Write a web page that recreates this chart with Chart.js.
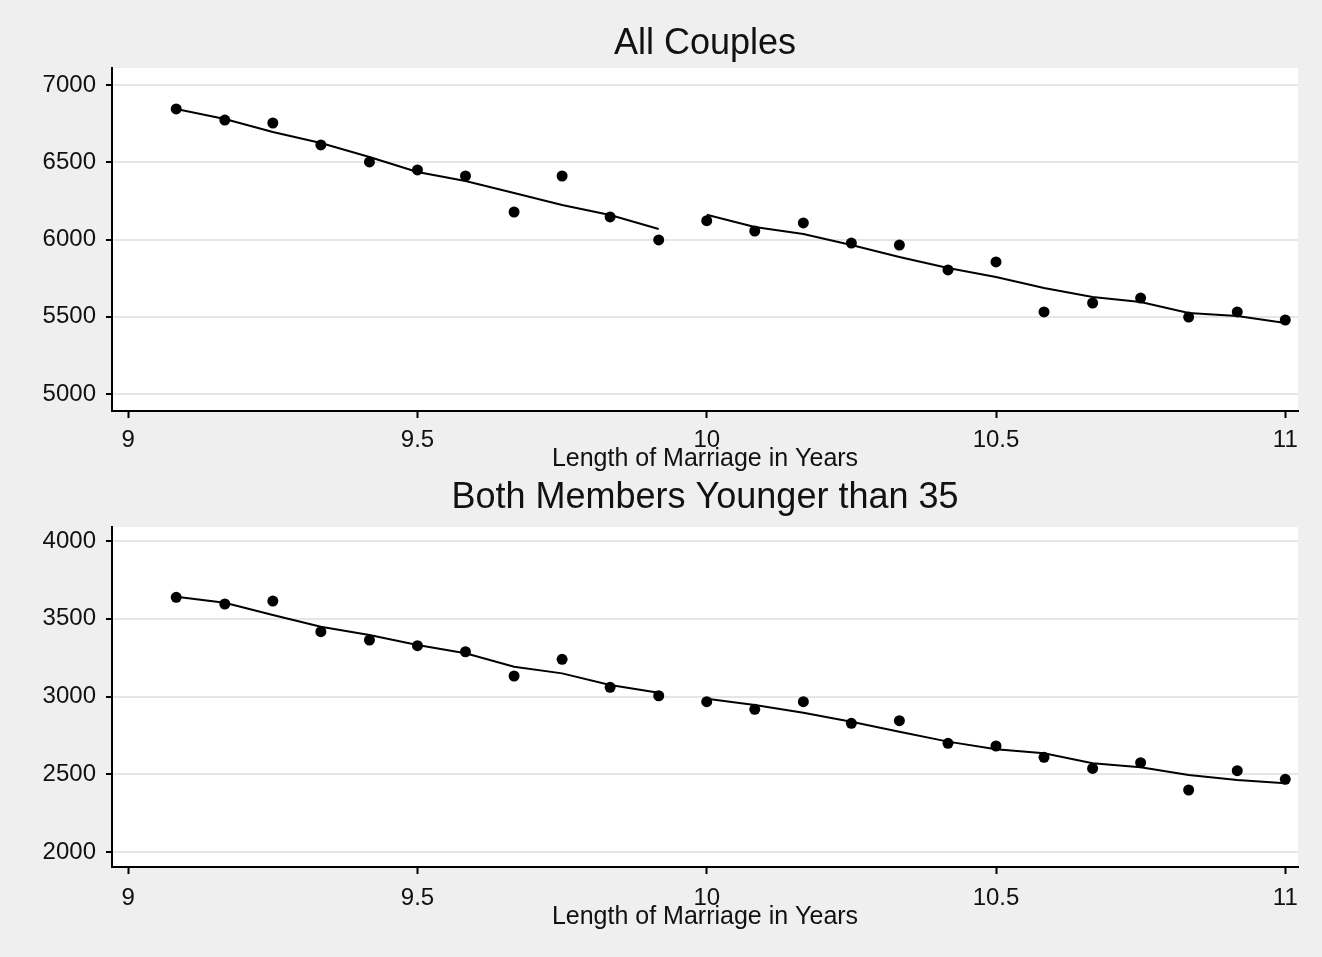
<!DOCTYPE html>
<html>
<head>
<meta charset="utf-8">
<script src="https://cdn.jsdelivr.net/npm/chart.js@4.4.1/dist/chart.umd.min.js"></script>
<style>
  html, body { margin: 0; padding: 0; background: #efefef; }
  .wrap { position: relative; width: 1322px; height: 957px; }
  .panel { position: absolute; left: 0; width: 1322px; }
</style>
</head>
<body>
<div class="wrap">
  <div class="panel" style="top:0;height:478px"><canvas id="allCouples"></canvas></div>
  <div class="panel" style="top:478px;height:479px"><canvas id="youngCouples"></canvas></div>
</div>
<script>
// length of marriage in years (monthly bins)
const years = [9.083, 9.167, 9.25, 9.333, 9.417, 9.5, 9.583, 9.667, 9.75, 9.833, 9.917,
               10, 10.083, 10.167, 10.25, 10.333, 10.417, 10.5, 10.583, 10.667, 10.75, 10.833, 10.917, 11];
const splitAt = 11; // fitted line breaks at 10 years

// All Couples
const allMeans = [6845, 6773, 6754, 6612, 6502, 6450, 6411, 6178, 6411, 6146, 5997,
                  6122, 6055, 6107, 5977, 5964, 5803, 5855, 5531, 5589, 5621, 5498, 5531, 5479];
const allFit   = [6845, 6780, 6696, 6625, 6534, 6437, 6379, 6301, 6223, 6159, 6068,
                  6160, 6081, 6036, 5964, 5887, 5816, 5757, 5686, 5628, 5596, 5524, 5505, 5460];

// Both Members Younger than 35
const youngMeans = [3638, 3595, 3614, 3417, 3363, 3327, 3288, 3132, 3239, 3059, 3005,
                    2967, 2918, 2967, 2828, 2845, 2699, 2682, 2609, 2538, 2575, 2399, 2523, 2468];
const youngFit   = [3642, 3603, 3524, 3449, 3396, 3331, 3278, 3192, 3149, 3074, 3025,
                    2985, 2946, 2896, 2838, 2774, 2710, 2661, 2635, 2571, 2545, 2495, 2463, 2442];

const xTicks = [9, 9.5, 10, 10.5, 11];
const allTicks = [5000, 5500, 6000, 6500, 7000];
const youngTicks = [2000, 2500, 3000, 3500, 4000];

const FONT = "'Liberation Sans', Arial, sans-serif";
const TXT = '#111';

// white plot region on the grey page
const plotBg = {
  id: 'plotBg',
  beforeDraw(chart) {
    const a = chart.chartArea, ctx = chart.ctx;
    ctx.save();
    ctx.fillStyle = '#ffffff';
    ctx.fillRect(a.left, a.top, a.right - a.left, a.bottom - a.top);
    ctx.restore();
  }
};

function pts(xs, ys) { return xs.map((x, i) => ({ x: x, y: ys[i] })); }

function drawPanel(id, title, means, fit, yTicks, yMin, yMax, L) {
  new Chart(document.getElementById(id), {
    type: 'scatter',
    data: {
      datasets: [
        { data: pts(years, means), xAxisID: 'x', yAxisID: 'y',
          backgroundColor: '#000', borderColor: '#000',
          pointRadius: 5.5, pointBorderWidth: 0, showLine: false },
        { data: pts(years.slice(0, splitAt), fit.slice(0, splitAt)), xAxisID: 'x', yAxisID: 'y',
          showLine: true, borderColor: '#000', borderWidth: 2, pointRadius: 0, tension: 0 },
        { data: pts(years.slice(splitAt), fit.slice(splitAt)), xAxisID: 'x', yAxisID: 'y',
          showLine: true, borderColor: '#000', borderWidth: 2, pointRadius: 0, tension: 0 }
      ]
    },
    options: {
      responsive: true,
      maintainAspectRatio: false,
      animation: false,
      layout: { padding: { left: 0, right: 24, top: 0, bottom: 0 } },
      plugins: {
        legend: { display: false },
        tooltip: { enabled: false }
      },
      scales: {
        x: {
          type: 'linear', min: 8.972, max: 11.022,
          afterBuildTicks: s => { s.ticks = xTicks.map(v => ({ value: v })); },
          afterFit: s => { s.height = L.xHeight; },
          border: { color: '#000', width: 2 },
          grid: { drawOnChartArea: false, tickColor: '#000', tickLength: 7, tickWidth: 2 },
          ticks: { color: TXT, font: { family: FONT, size: 24 }, padding: L.xPad,
                   maxRotation: 0, callback: v => String(v) },
          title: { display: true, text: 'Length of Marriage in Years', color: TXT,
                   font: { family: FONT, size: 25 }, padding: { top: 0, bottom: L.axisTitleBottom } }
        },
        y: {
          type: 'linear', min: yMin, max: yMax,
          afterBuildTicks: s => { s.ticks = yTicks.map(v => ({ value: v })); },
          afterFit: s => { s.width = 112; },
          border: { color: '#000', width: 2 },
          grid: { color: '#e6e6e6', lineWidth: 2, tickColor: '#000', tickLength: 6, tickWidth: 2 },
          ticks: { color: TXT, font: { family: FONT, size: 24 }, padding: 10,
                   callback: v => String(v) }
        },
        // empty top axis only carries the panel title, centred over the plot
        xTop: {
          type: 'linear', position: 'top', min: 0, max: 1,
          afterFit: s => { s.height = L.topHeight; },
          border: { display: false },
          grid: { display: false },
          ticks: { display: false },
          title: { display: true, text: title, color: TXT,
                   font: { family: FONT, size: 36, lineHeight: 1.0 },
                   padding: { top: L.titleTop, bottom: 0 } }
        }
      }
    },
    plugins: [plotBg]
  });
}

drawPanel('allCouples', 'All Couples', allMeans, allFit, allTicks, 4890, 7110,
  { topHeight: 68, titleTop: 26, xHeight: 67, xPad: 8, axisTitleBottom: 4 });
drawPanel('youngCouples', 'Both Members Younger than 35', youngMeans, youngFit, youngTicks, 1904, 4090,
  { topHeight: 49, titleTop: 2, xHeight: 90, xPad: 10, axisTitleBottom: 25 });
</script>
</body>
</html>
